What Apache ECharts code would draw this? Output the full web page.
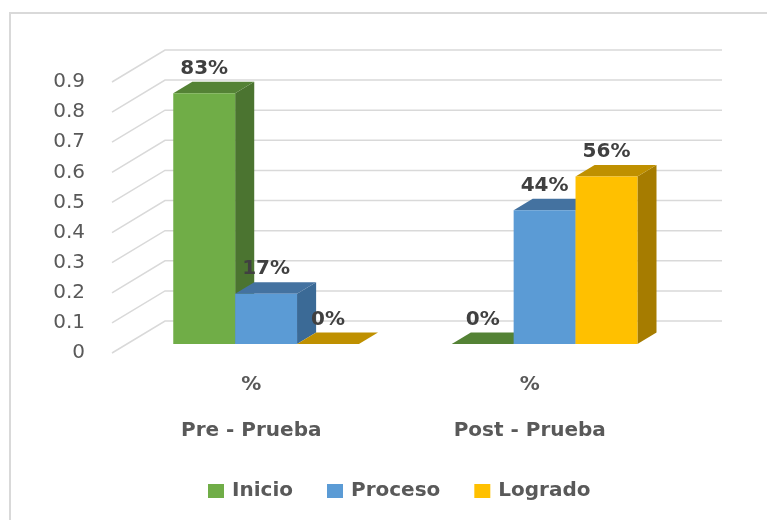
<!DOCTYPE html>
<html>
<head>
<meta charset="utf-8">
<title>Pre - Prueba / Post - Prueba</title>
<script src="https://cdn.jsdelivr.net/npm/echarts@6/dist/echarts.min.js"></script>
<style>
  html, body { margin: 0; padding: 0; background: #fff; }
  #main { width: 767px; height: 520px; }
</style>
</head>
<body>
<div id="main"></div>
<script>
var categories = ['Pre - Prueba', 'Post - Prueba']
var seriesNames = ['Inicio', 'Proceso', 'Logrado']
var inicio = [0.833, 0]
var proceso = [0.167, 0.444]
var logrado = [0, 0.556]
var yTicks = [0, 0.1, 0.2, 0.3, 0.4, 0.5, 0.6, 0.7, 0.8, 0.9]

var faceColors = [
  { front: '#70AD47', side: '#4B7430', top: '#548235' },
  { front: '#5B9BD5', side: '#3B6A96', top: '#4472A0' },
  { front: '#FFC000', side: '#A67C00', top: '#BF9000' }
]

var depth = [53, -32]   // floor depth in px (3d look)
var barFront = 0.28     // bars sit between these depth fractions
var barBack = 0.64
var font = 'DejaVu Sans'

function main() {
  draw()
}

function wallItem(params, api) {
  var cs = params.coordSys
  var y = api.coord([0, api.value(1)])[1]
  var x0 = cs.x
  var x1 = cs.x + depth[0]
  var x2 = cs.x + cs.width + depth[0]
  return {
    type: 'polyline',
    shape: { points: [[x0, y], [x1, y + depth[1]], [x2, y + depth[1]]] },
    style: { stroke: '#D9D9D9', lineWidth: 1.5, fill: null },
    silent: true
  }
}

function barItem(s) {
  return function (params, api) {
    var cat = api.value(0)
    var val = api.value(1)
    var base = api.coord([cat, 0])
    var top = api.coord([cat, val])
    var band = api.size([1, 0])[0]
    var bw = band / 4.5
    var fx = base[0] - 1.5 * bw + s * bw + depth[0] * barFront
    var fy0 = base[1] + depth[1] * barFront
    var fy1 = top[1] + depth[1] * barFront
    var dx = depth[0] * (barBack - barFront)
    var dy = depth[1] * (barBack - barFront)
    var c = faceColors[s]
    return {
      type: 'group',
      children: [
        {
          type: 'polygon',
          shape: { points: [[fx + bw, fy0], [fx + bw + dx, fy0 + dy], [fx + bw + dx, fy1 + dy], [fx + bw, fy1]] },
          style: { fill: c.side }
        },
        {
          type: 'polygon',
          shape: { points: [[fx, fy1], [fx + dx, fy1 + dy], [fx + bw + dx, fy1 + dy], [fx + bw, fy1]] },
          style: { fill: c.top }
        },
        {
          type: 'rect',
          shape: { x: fx, y: fy1, width: bw, height: fy0 - fy1 },
          style: { fill: c.front }
        },
        {
          type: 'text',
          x: fx + bw / 2,
          y: fy1 + dy - 13,
          z2: 10,
          style: {
            text: Math.round(val * 100) + '%',
            fill: '#404040',
            fontSize: 20,
            fontWeight: 'bold',
            fontFamily: font,
            align: 'center',
            verticalAlign: 'middle'
          }
        }
      ]
    }
  }
}

function draw() {
  var myChart = echarts.init(document.getElementById('main'))
  var values = [inicio, proceso, logrado]

  var series = [{
    type: 'custom',
    name: 'wall',
    renderItem: wallItem,
    clip: false,
    z: 1,
    silent: true,
    data: yTicks.map(function (v) { return [0, v] })
  }]
  seriesNames.forEach(function (name, s) {
    series.push({
      type: 'custom',
      name: name,
      renderItem: barItem(s),
      clip: false,
      z: 2,
      itemStyle: { color: faceColors[s].front },
      data: values[s].map(function (v, i) { return [i, v] })
    })
  })

  var option = {
    animation: false,
    // chart frame: only left and top edges are inside the picture
    graphic: [{
      type: 'polyline',
      shape: { points: [[10, 700], [10, 13], [1000, 13]] },
      style: { fill: null, stroke: '#D9D9D9', lineWidth: 2 },
      silent: true
    }],
    grid: { left: 112, right: 98, top: 82, bottom: 167 },
    xAxis: {
      type: 'category',
      data: categories,
      axisLine: { show: false },
      axisTick: { show: false },
      axisLabel: {
        formatter: function (v) { return '%\n\n' + v },
        margin: 20,
        lineHeight: 23,
        fontSize: 20,
        fontWeight: 'bold',
        fontFamily: font,
        color: '#595959'
      }
    },
    yAxis: {
      type: 'value',
      min: 0,
      max: 0.9,
      interval: 0.1,
      axisLine: { show: false },
      axisTick: { show: false },
      splitLine: { show: false },
      axisLabel: {
        margin: 27,
        fontSize: 20,
        fontFamily: font,
        color: '#595959'
      }
    },
    legend: {
      data: seriesNames,
      left: 203,
      top: 476,
      icon: 'rect',
      itemWidth: 16,
      itemHeight: 14,
      itemGap: 34,
      textStyle: { fontSize: 20, fontWeight: 'bold', fontFamily: font, color: '#595959', padding: [0, 0, 0, 3] }
    },
    series: series
  }
  myChart.setOption(option)
}

window.onload = main
</script>
</body>
</html>
